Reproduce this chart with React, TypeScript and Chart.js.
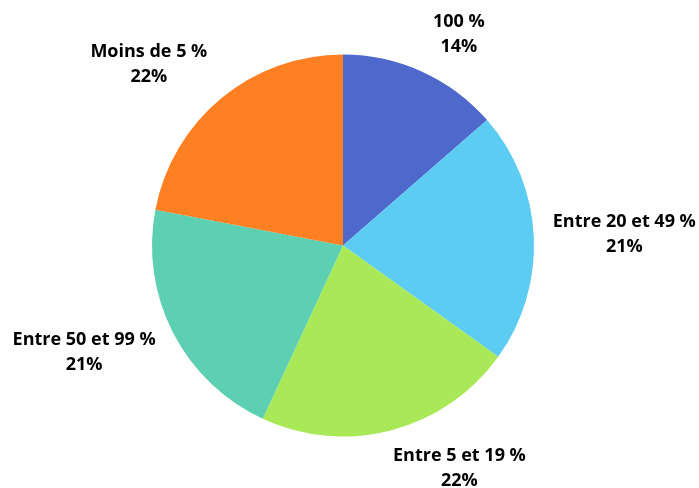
import React, { useEffect, useRef } from "react";
import { Chart, registerables } from "chart.js";

Chart.register(...registerables);

const categories = ["100 %", "Entre 20 et 49 %", "Entre 5 et 19 %", "Entre 50 et 99 %", "Moins de 5 %"];
const shares = [13.6, 21.3, 22.0, 21.1, 22.0];
const colors = ["#4F68CB", "#5DCCF3", "#A9E856", "#5DCFB3", "#FF8023"];

const FONT = "bold 18px 'Open Sans', Lato, sans-serif";

const outsideLabels = {
  id: "outsideLabels",
  afterDatasetsDraw(chart: any) {
    const ctx = chart.ctx;
    const meta = chart.getDatasetMeta(0);
    const total = shares.reduce((a, b) => a + b, 0);
    ctx.save();
    ctx.font = FONT;
    ctx.fillStyle = "#000";
    ctx.textAlign = "center";
    ctx.textBaseline = "middle";
    const lineH = 25;
    const clamp = (v: number) => Math.max(-1, Math.min(1, v));
    meta.data.forEach((arc: any, i: number) => {
      const { x, y, startAngle, endAngle, outerRadius } = arc.getProps(
        ["x", "y", "startAngle", "endAngle", "outerRadius"],
        true
      );
      const mid = (startAngle + endAngle) / 2;
      const ux = Math.cos(mid);
      const uy = Math.sin(mid);
      const lines = [categories[i], Math.round((shares[i] / total) * 100) + "%"];
      const w = Math.max(...lines.map((l) => ctx.measureText(l).width));
      const h = lineH * lines.length;
      const r = outerRadius + 14;
      const cx = x + ux * r + clamp(ux * 3.5) * (w / 2) + Math.sign(ux) * 5;
      const cy = y + uy * r + clamp(uy * 1.2) * (h / 2);
      lines.forEach((l, j) => {
        ctx.fillText(l, cx, cy - h / 2 + lineH * (j + 0.5));
      });
    });
    ctx.restore();
  },
};

export default function App() {
  const ref = useRef<HTMLCanvasElement>(null);
  useEffect(() => {
    document.body.style.margin = "0";
    const chart = new Chart(ref.current!, {
      type: "pie",
      data: {
        labels: categories,
        datasets: [
          {
            data: shares,
            backgroundColor: colors,
            borderWidth: 0,
          },
        ],
      },
      options: {
        responsive: false,
        animation: false,
        layout: { padding: { left: 152, right: 165, top: 54, bottom: 51 } },
        plugins: {
          legend: { display: false },
          tooltip: { enabled: false },
        },
      },
      plugins: [outsideLabels],
    });
    return () => chart.destroy();
  }, []);
  return (
    <div style={{ width: 699, height: 488, background: "#fff" }}>
      <canvas ref={ref} width={699} height={488} />
    </div>
  );
}
